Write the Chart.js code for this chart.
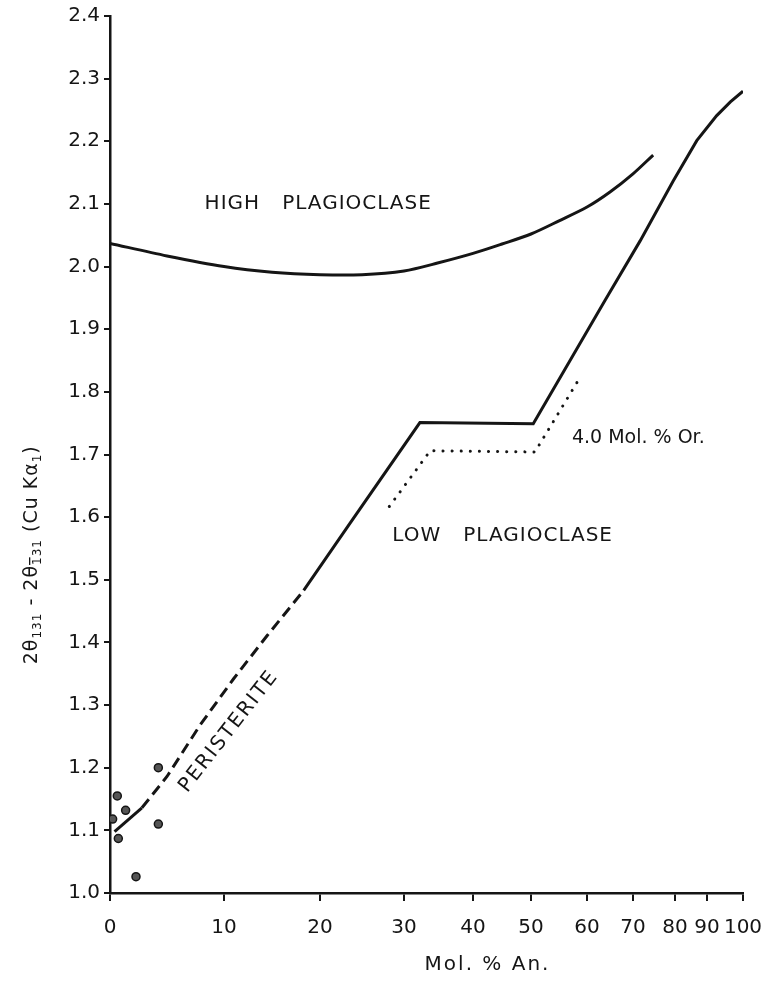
<!DOCTYPE html>
<html>
<head>
<meta charset="utf-8">
<script src="https://cdn.jsdelivr.net/npm/chart.js@4.4.1/dist/chart.umd.min.js"></script>
<style>
  html, body { margin: 0; padding: 0; background: #fff; }
  canvas { display: block; }
</style>
</head>
<body>
<canvas id="plagioclaseChart" width="769" height="982"></canvas>
<script>
// Mol. % An. against 2θ(131) - 2θ(1̄31)
const xTickValues = [0, 10, 20, 30, 40, 50, 60, 70, 80, 90, 100];

const highPlagAn    = [0, 5, 10, 15, 20, 25, 30, 35, 40, 45, 50, 55, 60, 65, 70, 74.8];
const highPlagDelta = [2.037, 2.017, 2.000, 1.991, 1.987, 1.987, 1.993, 2.006, 2.021, 2.036, 2.052, 2.073, 2.095, 2.119, 2.148, 2.178];

const lowPlagAn    = [0.4, 2.8, 5.0, 7.9, 11.0, 14.5, 18.3, 23.6, 32.3, 50.4, 63.9, 71.7, 79.6, 86.8, 92.7, 96.5, 100];
const lowPlagDelta = [1.098, 1.136, 1.186, 1.268, 1.342, 1.411, 1.483, 1.591, 1.751, 1.749, 1.946, 2.041, 2.137, 2.201, 2.241, 2.263, 2.280];
const peristeriteAn = [2.8, 18.3];   // dashed part of the low curve

const orAn    = [28.25, 33.8, 50.7, 58.75];
const orDelta = [1.617, 1.706, 1.704, 1.823];

const sampleAn    = [0.23, 0.64, 1.37, 0.73, 2.28, 4.24, 4.24];
const sampleDelta = [1.118, 1.155, 1.132, 1.087, 1.026, 1.200, 1.110];

// the An axis is not linear: where each tick sits along the axis (0..1)
const xTickStops = [0, 0.1801, 0.3318, 0.4645, 0.5735, 0.6651, 0.7536, 0.8262, 0.8926, 0.9431, 1];

class PiecewiseScale extends Chart.LinearScale {
    toDecimal(value) {
        let i = 1;
        while (i < xTickValues.length - 1 && value > xTickValues[i]) i++;
        const t = (value - xTickValues[i - 1]) / (xTickValues[i] - xTickValues[i - 1]);
        return xTickStops[i - 1] + t * (xTickStops[i] - xTickStops[i - 1]);
    }
    getPixelForValue(value) {
        if (value === null || isNaN(value)) return NaN;
        return this.getPixelForDecimal(this.toDecimal(value));
    }
    getValueForPixel(pixel) {
        const d = this.getDecimalForPixel(pixel);
        let i = 1;
        while (i < xTickStops.length - 1 && d > xTickStops[i]) i++;
        const t = (d - xTickStops[i - 1]) / (xTickStops[i] - xTickStops[i - 1]);
        return xTickValues[i - 1] + t * (xTickValues[i] - xTickValues[i - 1]);
    }
}
PiecewiseScale.id = 'piecewise';
PiecewiseScale.defaults = Chart.LinearScale.defaults;
Chart.register(PiecewiseScale);

const toPoints = (xs, ys) => xs.map((x, i) => ({ x: x, y: ys[i] }));
const ink = '#151515';
const font = 'DejaVu Sans';

// Texts written on the figure, and the rotated y title with subscripts
const figureText = {
    id: 'figureText',
    afterDraw(chart) {
        const { ctx, scales: { x, y } } = chart;
        ctx.save();
        ctx.fillStyle = ink;
        ctx.textBaseline = 'middle';
        ctx.textAlign = 'left';

        ctx.font = '20px "' + font + '"';
        ctx.letterSpacing = '1px';
        ctx.fillText('HIGH   PLAGIOCLASE', x.getPixelForValue(8.3), y.getPixelForValue(2.10));
        ctx.fillText('LOW   PLAGIOCLASE', x.getPixelForValue(28.6), y.getPixelForValue(1.571));
        ctx.font = '19px "' + font + '"';
        ctx.letterSpacing = '0px';
        ctx.fillText('4.0 Mol. % Or.', x.getPixelForValue(57.3), y.getPixelForValue(1.727));

        // PERISTERITE, along the dashed line
        ctx.save();
        ctx.translate(x.getPixelForValue(10.5), y.getPixelForValue(1.258));
        ctx.rotate(-52 * Math.PI / 180);
        ctx.textAlign = 'center';
        ctx.font = '20px "' + font + '"';
        ctx.letterSpacing = '2px';
        ctx.fillText('PERISTERITE', 0, 0);
        ctx.restore();

        // x title
        ctx.textAlign = 'center';
        ctx.font = '20px "' + font + '"';
        ctx.letterSpacing = '2px';
        ctx.fillText('Mol. % An.', x.getPixelForValue(42.5), 965);

        // y title: 2θ131 - 2θ1̄31 (Cu Kα1)
        const parts = [
            ['2θ', false], ['131', true], [' - 2θ', false], ['131', true, true],
            [' (Cu Kα', false], ['1', true], [')', false]
        ];
        const big = '19px "' + font + '"', small = '12px "' + font + '"';
        ctx.letterSpacing = '1px';
        let total = 0;
        parts.forEach(p => { ctx.font = p[1] ? small : big; total += ctx.measureText(p[0]).width; });
        ctx.save();
        ctx.translate(32, y.getPixelForValue(1.54));
        ctx.rotate(-Math.PI / 2);
        ctx.textAlign = 'left';
        let pos = -total / 2;
        parts.forEach(p => {
            ctx.font = p[1] ? small : big;
            const w = ctx.measureText(p[0]).width;
            ctx.fillText(p[0], pos, p[1] ? 6 : 0);
            if (p[2]) {
                const w1 = ctx.measureText('1').width;
                ctx.fillRect(pos, -3, w1 - 1, 1.3);
            }
            pos += w;
        });
        ctx.restore();
        ctx.restore();
    }
};

const chart = new Chart(document.getElementById('plagioclaseChart'), {
    type: 'scatter',
    data: {
        datasets: [
            {
                label: 'High plagioclase',
                data: toPoints(highPlagAn, highPlagDelta),
                showLine: true,
                tension: 0.3,
                borderColor: ink,
                borderWidth: 3,
                pointRadius: 0
            },
            {
                label: 'Low plagioclase',
                data: toPoints(lowPlagAn, lowPlagDelta),
                showLine: true,
                borderColor: ink,
                borderWidth: 3,
                pointRadius: 0,
                segment: {
                    borderDash: c => (lowPlagAn[c.p0DataIndex] >= peristeriteAn[0] &&
                        lowPlagAn[c.p1DataIndex] <= peristeriteAn[1]) ? [11, 6] : undefined
                }
            },
            {
                label: '4.0 Mol. % Or.',
                data: toPoints(orAn, orDelta),
                showLine: true,
                borderColor: ink,
                borderWidth: 3,
                borderDash: [0.1, 9],
                borderCapStyle: 'round',
                pointRadius: 0
            },
            {
                label: 'Samples',
                data: toPoints(sampleAn, sampleDelta),
                pointRadius: 4,
                pointBackgroundColor: '#555',
                pointBorderColor: ink,
                pointBorderWidth: 1.5
            }
        ]
    },
    options: {
        responsive: false,
        animation: false,
        events: [],
        layout: { padding: { top: 15, right: 26, left: 0, bottom: 0 } },
        plugins: {
            legend: { display: false },
            tooltip: { enabled: false }
        },
        scales: {
            x: {
                type: 'piecewise',
                min: 0,
                max: 100,
                afterFit: s => { s.height = 89; s.paddingLeft = 0; s.paddingRight = 0; },
                afterBuildTicks: s => { s.ticks = xTickValues.map(v => ({ value: v })); },
                border: { display: true, color: ink, width: 2.5 },
                grid: { drawOnChartArea: false, drawTicks: true, tickLength: 8, color: ink, lineWidth: 2 },
                ticks: {
                    autoSkip: false,
                    maxRotation: 0,
                    padding: 15,
                    color: ink,
                    font: { family: font, size: 20 },
                    callback: v => String(v)
                }
            },
            y: {
                min: 1.0,
                max: 2.4,
                afterFit: s => { s.width = 110; },
                border: { display: true, color: ink, width: 2.5 },
                grid: { drawOnChartArea: false, drawTicks: true, tickLength: 6, color: ink, lineWidth: 2 },
                ticks: {
                    stepSize: 0.1,
                    padding: 4,
                    color: ink,
                    font: { family: font, size: 20 },
                    callback: v => v.toFixed(1)
                }
            }
        }
    },
    plugins: [figureText]
});
</script>
</body>
</html>
